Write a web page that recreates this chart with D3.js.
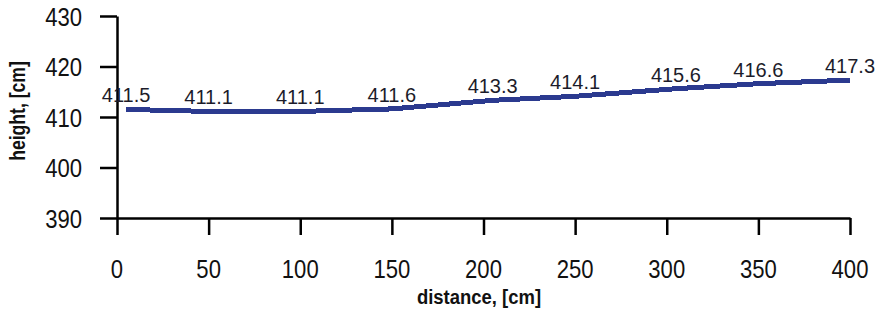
<!DOCTYPE html>
<html>
<head>
<meta charset="utf-8">
<script src="https://cdn.jsdelivr.net/npm/d3@7"></script>
<style>
  body { margin: 0; background: #fff; }
  svg { display: block; font-family: "Liberation Sans", Arial, sans-serif; }
</style>
</head>
<body>
<svg id="chart" width="878" height="313"></svg>
<script>
// measured points along the profile
var distance = [5, 50, 100, 150, 205, 250, 305, 350, 400];
var height = [411.5, 411.1, 411.1, 411.6, 413.3, 414.1, 415.6, 416.6, 417.3];
var xTicks = [0, 50, 100, 150, 200, 250, 300, 350, 400];
var yTicks = [390, 400, 410, 420, 430];

var svg = d3.select('#chart');

var x = d3.scaleLinear().domain([0, 400]).range([117, 850]);
var y = d3.scaleLinear().domain([390, 430]).range([218, 16]);

// axes (lines and ticks only, labels drawn below)
svg.append('g')
    .attr('transform', 'translate(0,' + y(390) + ')')
    .call(d3.axisBottom(x).tickValues(xTicks).tickSize(17).tickSizeOuter(0).tickFormat(''))
    .call(function (g) {
        g.select('.domain').attr('stroke-width', 2.5);
        g.selectAll('.tick line').attr('stroke-width', 2.5);
    });

svg.append('g')
    .attr('transform', 'translate(' + x(0) + ',0)')
    .call(d3.axisLeft(y).tickValues(yTicks).tickSize(17).tickSizeOuter(0).tickFormat(''))
    .call(function (g) {
        g.select('.domain').attr('stroke-width', 2.5);
        g.selectAll('.tick line').attr('stroke-width', 2.5);
    });

// tick labels, slightly narrow like the original
svg.append('g').selectAll('text')
    .data(xTicks).enter()
    .append('text')
    .attr('transform', function (d) {
        return 'translate(' + x(d) + ',278) scale(0.85,1)';
    })
    .attr('text-anchor', 'middle')
    .attr('font-size', 26)
    .attr('fill', '#111')
    .text(function (d) { return d; });

svg.append('g').selectAll('text')
    .data(yTicks).enter()
    .append('text')
    .attr('transform', function (d) {
        return 'translate(82,' + (y(d) + 9.5) + ') scale(0.85,1)';
    })
    .attr('text-anchor', 'end')
    .attr('font-size', 26)
    .attr('fill', '#111')
    .text(function (d) { return d; });

// axis titles
svg.append('text')
    .attr('transform', 'translate(479,304) scale(0.88,1)')
    .attr('text-anchor', 'middle')
    .attr('font-size', 21)
    .attr('font-weight', 'bold')
    .attr('fill', '#111')
    .text('distance, [cm]');

svg.append('text')
    .attr('transform', 'translate(25,111) rotate(-90) scale(0.8,1)')
    .attr('text-anchor', 'middle')
    .attr('font-size', 22)
    .attr('font-weight', 'bold')
    .attr('fill', '#111')
    .text('height, [cm]');

// profile line
var line = d3.line()
    .x(function (d, i) { return x(distance[i]); })
    .y(function (d) { return y(d); });

svg.append('path')
    .datum(height)
    .attr('d', line)
    .attr('fill', 'none')
    .attr('stroke', '#2b3a8f')
    .attr('stroke-width', 5)
    .attr('shape-rendering', 'crispEdges');

// value labels
svg.append('g').selectAll('text')
    .data(height).enter()
    .append('text')
    .attr('x', function (d, i) { return x(distance[i]); })
    .attr('y', function (d) { return y(d) - 7; })
    .attr('text-anchor', 'middle')
    .attr('font-size', 20)
    .attr('fill', '#1c1c2a')
    .text(function (d) { return d3.format('.1f')(d); });
</script>
</body>
</html>
